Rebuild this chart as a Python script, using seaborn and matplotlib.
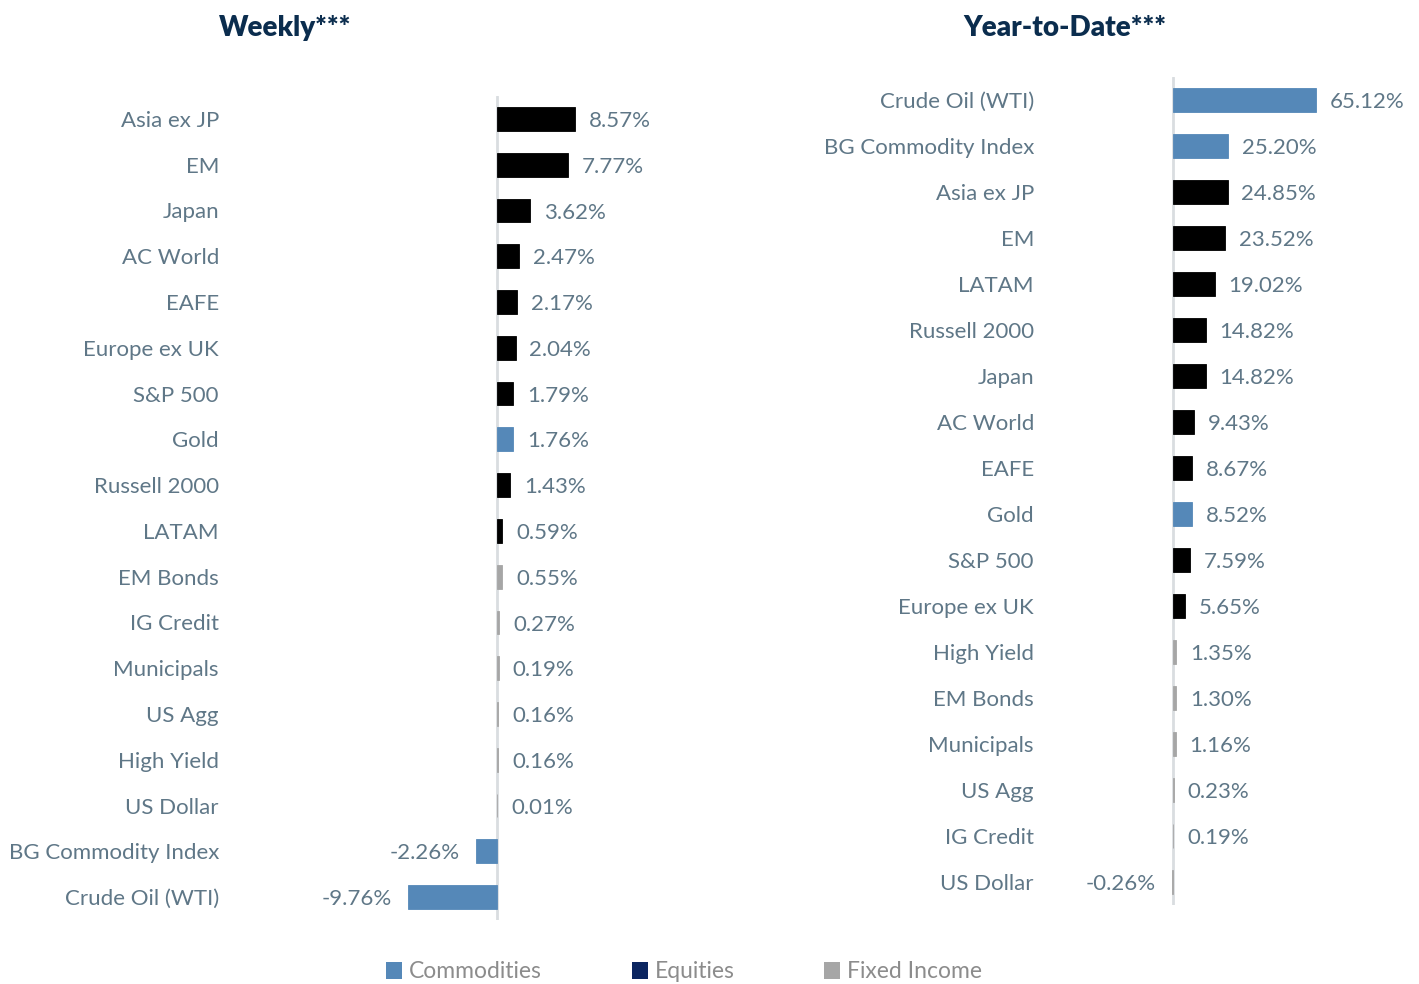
import matplotlib
matplotlib.use("Agg")
import matplotlib.pyplot as plt
import seaborn as sns
import pandas as pd
from matplotlib.patches import Patch

# ---- data ----
weekly_names = ["Asia ex JP", "EM", "Japan", "AC World", "EAFE", "Europe ex UK", "S&P 500",
                "Gold", "Russell 2000", "LATAM", "EM Bonds", "IG Credit", "Municipals",
                "US Agg", "High Yield", "US Dollar", "BG Commodity Index", "Crude Oil (WTI)"]
weekly_values = [8.57, 7.77, 3.62, 2.47, 2.17, 2.04, 1.79, 1.76, 1.43, 0.59, 0.55, 0.27,
                 0.19, 0.16, 0.16, 0.01, -2.26, -9.76]
weekly_cats = ["Equities", "Equities", "Equities", "Equities", "Equities", "Equities", "Equities",
               "Commodities", "Equities", "Equities", "Fixed Income", "Fixed Income", "Fixed Income",
               "Fixed Income", "Fixed Income", "Fixed Income", "Commodities", "Commodities"]

ytd_names = ["Crude Oil (WTI)", "BG Commodity Index", "Asia ex JP", "EM", "LATAM", "Russell 2000",
             "Japan", "AC World", "EAFE", "Gold", "S&P 500", "Europe ex UK", "High Yield",
             "EM Bonds", "Municipals", "US Agg", "IG Credit", "US Dollar"]
ytd_values = [65.12, 25.20, 24.85, 23.52, 19.02, 14.82, 14.82, 9.43, 8.67, 8.52, 7.59, 5.65,
              1.35, 1.30, 1.16, 0.23, 0.19, -0.26]
ytd_cats = ["Commodities", "Commodities", "Equities", "Equities", "Equities", "Equities",
            "Equities", "Equities", "Equities", "Commodities", "Equities", "Equities",
            "Fixed Income", "Fixed Income", "Fixed Income", "Fixed Income", "Fixed Income",
            "Fixed Income"]

legend_labels = ["Commodities", "Equities", "Fixed Income"]

bar_colors = {"Commodities": "#5588B8", "Equities": "#000000", "Fixed Income": "#A6A6A6"}
legend_colors = {"Commodities": "#5588B8", "Equities": "#0B2560", "Fixed Income": "#A6A6A6"}
label_color = "#5F7787"
title_color = "#0B2D4E"

sns.set_theme(style="white")
plt.rcParams["font.family"] = ["Lato", "DejaVu Sans"]

W, H = 1419, 984
fig = plt.figure(figsize=(W / 100, H / 100), dpi=100)
FS = 16


def make_panel(rect, names, values, cats, xlim, fontsize=FS):
    ax = fig.add_axes(rect)
    df = pd.DataFrame({"name": names, "value": values, "cat": cats})
    sns.barplot(data=df, x="value", y="name", hue="cat", order=names,
                palette=bar_colors, dodge=False, width=0.52, ax=ax, legend=False,
                saturation=1)
    for p in ax.patches:
        p.set_edgecolor(p.get_facecolor())
        p.set_linewidth(0.6)
    ax.set_xlim(*xlim)
    ax.set_ylim(len(names) - 0.5, -0.5)
    ax.axvline(0, color="#D9DDE0", lw=2, zorder=0)
    for s in ax.spines.values():
        s.set_visible(False)
    ax.set_xticks([])
    ax.set_xlabel("")
    ax.set_ylabel("")
    ax.tick_params(axis="y", length=0, pad=8, labelsize=fontsize, labelcolor=label_color)
    for i, v in enumerate(values):
        if v >= 0:
            ax.annotate(f"{v:.2f}%", xy=(v, i), xytext=(10, -1.5), textcoords="offset points",
                        ha="left", va="center", fontsize=fontsize, color=label_color)
        else:
            ax.annotate(f"{v:.2f}%", xy=(v, i), xytext=(-12, -1.5), textcoords="offset points",
                        ha="right", va="center", fontsize=fontsize, color=label_color)
    return ax


def rect_px(x0, y0, x1, y1):
    return [x0 / W, 1 - y1 / H, (x1 - x0) / W, (y1 - y0) / H]


# left panel: zero at ~497px, 9.1 px per %
make_panel(rect_px(230, 96, 700, 920), weekly_names, weekly_values, weekly_cats,
           (-(497 - 230) / 9.1, (700 - 497) / 9.1))
# right panel: zero at ~1173px, 2.196 px per %
make_panel(rect_px(1045, 77, 1405, 905), ytd_names, ytd_values, ytd_cats,
           (-(1173 - 1045) / 2.196, (1405 - 1173) / 2.196))

fig.text(285 / W, 1 - 28 / H, "Weekly***", ha="center", va="center", fontsize=20,
         fontweight="heavy", color=title_color)
fig.text(1065 / W, 1 - 28 / H, "Year-to-Date***", ha="center", va="center", fontsize=20,
         fontweight="heavy", color=title_color)

handles = [Patch(facecolor=legend_colors[c], edgecolor="none", label=c) for c in legend_labels]
leg = fig.legend(handles=handles, loc="center", bbox_to_anchor=(684 / W, 1 - 972 / H),
                 ncol=3, frameon=False, fontsize=16.5, handlelength=0.7, handleheight=0.7,
                 handletextpad=0.3, columnspacing=3.9)
for t in leg.get_texts():
    t.set_color("#8C8C8C")

fig.savefig("out.png", dpi=100)
